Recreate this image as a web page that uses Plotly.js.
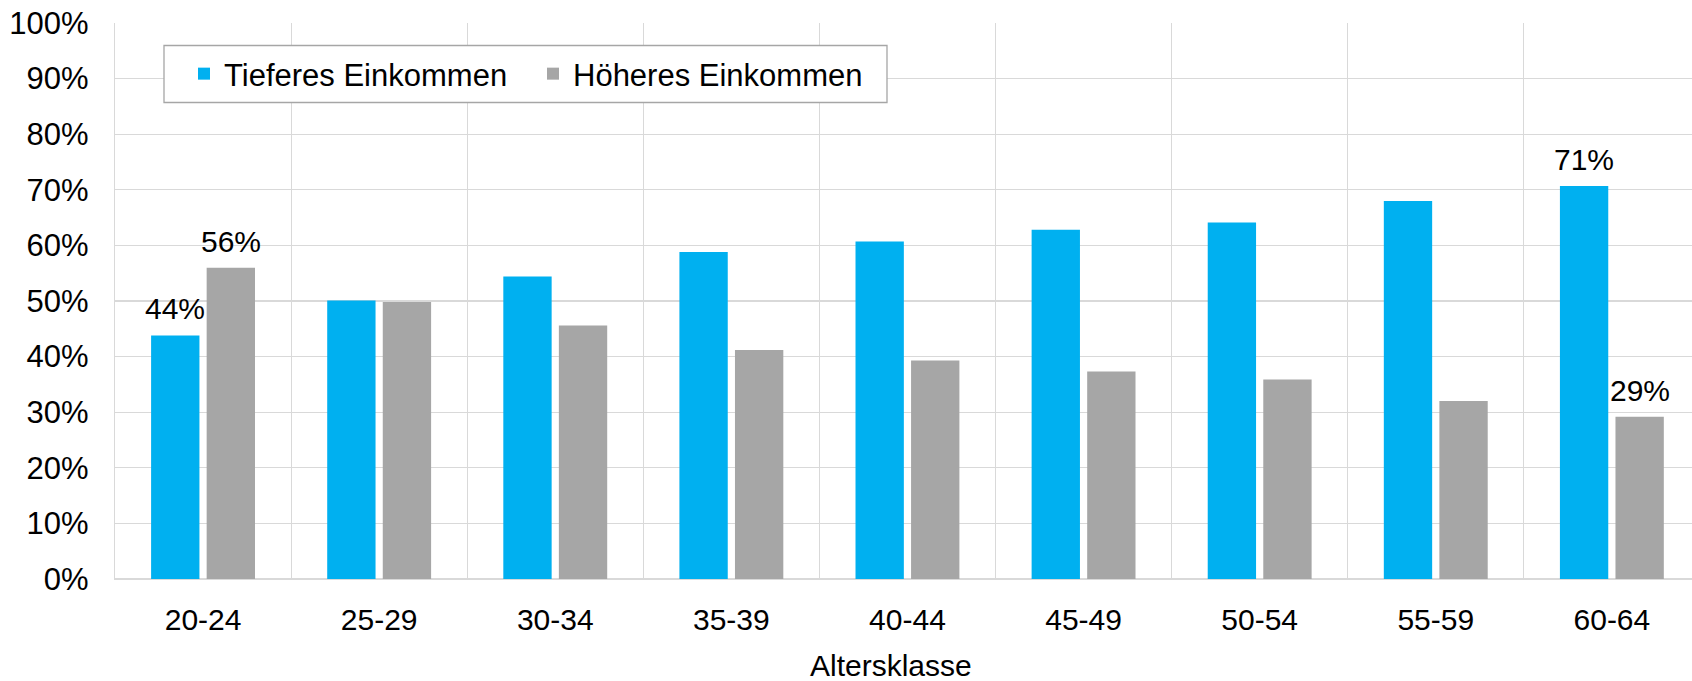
<!DOCTYPE html>
<html>
<head>
<meta charset="utf-8">
<script src="https://cdn.plot.ly/plotly-3.0.1.min.js"></script>
<style>html,body{margin:0;padding:0;background:#fff;}#chart{width:1692px;height:681px;}</style>
</head>
<body>
<div id="chart"></div>
<script>
const categories = ["20-24","25-29","30-34","35-39","40-44","45-49","50-54","55-59","60-64"];
const tieferes = [0.438, 0.501, 0.544, 0.588, 0.607, 0.628, 0.641, 0.680, 0.707];
const hoeheres = [0.560, 0.498, 0.456, 0.412, 0.393, 0.373, 0.359, 0.320, 0.292];
const seriesNames = ["Tieferes Einkommen", "Höheres Einkommen"];
const labelledIdx = [0, 8];
const xTitle = "Altersklasse";

const FONT = "Arial, 'Liberation Sans', sans-serif";
const BLUE = "#00B0F0", GRAY = "#A6A6A6";

const traces = [
  {type:"bar", name:seriesNames[0], x:categories, y:tieferes, marker:{color:BLUE}, hoverinfo:"none"},
  {type:"bar", name:seriesNames[1], x:categories, y:hoeheres, marker:{color:GRAY}, hoverinfo:"none"}
];

const annotations = [];
labelledIdx.forEach(i => {
  [[tieferes, -1], [hoeheres, 1]].forEach(([arr, side]) => {
    annotations.push({
      x: categories[i], y: arr[i], xref:"x", yref:"y",
      text: Math.round(arr[i]*100) + "%",
      showarrow:false, yanchor:"bottom", xanchor:"center",
      xshift: side*27.75, yshift: 8,
      font:{family:FONT, size:30, color:"#000"}
    });
  });
});
annotations.push({
  text: xTitle, xref:"paper", yref:"paper", x:0.492, y:-0.122,
  xanchor:"center", yanchor:"top", showarrow:false,
  font:{family:FONT, size:30, color:"#000"}
});

const layout = {
  width:1692, height:681,
  margin:{l:115, r:0, t:23, b:102, pad:0},
  paper_bgcolor:"#fff", plot_bgcolor:"#fff",
  barmode:"group", bargap:0.369, bargroupgap:0.13,
  font:{family:FONT, size:30, color:"#000"},
  xaxis:{
    type:"category", range:[-0.5, 8.455],
    tickson:"boundaries", showgrid:true, gridcolor:"#D9D9D9", gridwidth:1,
    zeroline:false, showdividers:false,
    showline:true, linecolor:"#D9D9D9", linewidth:1.3,
    ticks:"", ticklabelstandoff:14,
    tickfont:{family:FONT, size:30, color:"#000"}, fixedrange:true
  },
  yaxis:{
    range:[0,1], dtick:0.1, tick0:0, tickformat:".0%",
    showgrid:true, gridcolor:"#D9D9D9", gridwidth:1.3,
    zeroline:true, zerolinecolor:"#D9D9D9", zerolinewidth:1.3,
    showline:true, linecolor:"#D9D9D9", linewidth:1.3,
    ticks:"", ticklabelstandoff:19,
    tickfont:{family:FONT, size:31, color:"#000"}, fixedrange:true
  },
  legend:{
    orientation:"h", x:(184-115)/1577, y:(578.5-73.5)/556, xanchor:"left", yanchor:"middle",
    bgcolor:"rgba(0,0,0,0)", borderwidth:0, entrywidth:304,
    font:{family:FONT, size:31, color:"#000"}, traceorder:"normal"
  },
  showlegend:true,
  shapes:[{
    type:"rect", xref:"paper", yref:"paper", layer:"above",
    x0:(164-115)/1577, x1:(887-115)/1577, y0:(578.5-102)/556, y1:(578.5-45)/556,
    line:{color:"#A6A6A6", width:1.3}, fillcolor:"#fff"
  }],
  annotations: annotations
};

Plotly.newPlot("chart", traces, layout, {staticPlot:true, displayModeBar:false});
</script>
</body>
</html>
